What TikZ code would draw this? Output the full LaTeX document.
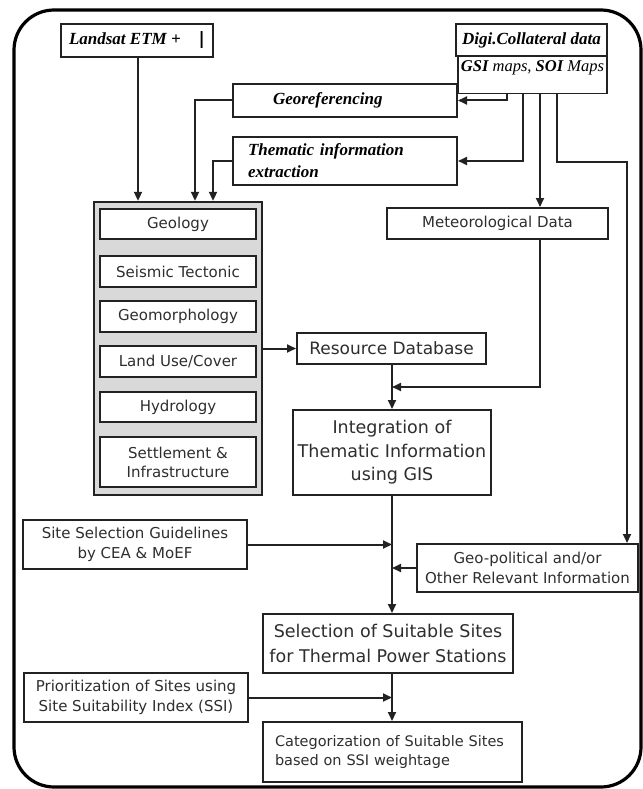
\documentclass[tikz,border=0pt]{standalone}
\usepackage{fontspec}
\setmainfont{DejaVu Sans}
\newfontfamily\serifbi{Liberation Serif}
\usetikzlibrary{arrows.meta}
\definecolor{lc}{HTML}{222222}
\definecolor{tc}{HTML}{2E2E2E}
\definecolor{gfill}{HTML}{D9D9D9}
\tikzset{
  box/.style={draw=lc, line width=2pt, fill=white, inner sep=0pt, text=tc, align=center},
  ibox/.style={box, minimum width=156pt, font=\fontsize{15}{19}\selectfont},
  sbox/.style={box, font=\serifbi\bfseries\itshape\fontsize{17}{22}\selectfont, text=black},
  ar/.style={draw=lc, line width=2pt, -{Triangle[length=9pt,width=8pt]}},
  ln/.style={draw=lc, line width=2pt}
}
\begin{document}
\begin{tikzpicture}[x=1pt, y=-1pt]
\useasboundingbox (0,0) rectangle (642,789);
% outer frame
\draw[line width=3.2pt, rounded corners=40pt] (14,10) rectangle (641,787);

% top sources
\node[sbox, minimum width=152pt, minimum height=33pt] (landsat) at (137,40.5) {Landsat ETM +\hspace{18pt}{\normalfont\bfseries|}};
\node[box, minimum width=149pt, minimum height=41pt, line width=1.4pt, text=black, anchor=north, inner sep=3pt] (gsi) at (532.5,52) {};
\node[text=black, font=\serifbi\itshape\fontsize{16.5}{20}\selectfont, inner sep=0pt] (gsitext) at (532.5,68) {\bfseries GSI\mdseries{} maps, \bfseries SOI\mdseries{} Maps};
\node[sbox, minimum width=151pt, minimum height=32pt] (digi) at (531.5,40) {Digi.Collateral data};

% processing boxes
\node[sbox, minimum width=224pt, minimum height=33pt, text width=144pt, inner xsep=40pt, align=left] (georef) at (345,100.5) {Georeferencing};
\node[sbox, minimum width=224pt, minimum height=48pt, text width=194pt, inner xsep=15pt, align=left] (thematic) at (345,161) {Thematic information\\extraction};

% thematic layers group
\node[draw=lc, line width=2.4pt, fill=gfill, minimum width=168pt, minimum height=293pt, inner sep=0pt] (group) at (178,348.5) {};
\node[ibox, minimum height=30pt] (geology) at (178,224) {Geology};
\node[ibox, minimum height=31pt] (seismic) at (178,271.5) {Seismic Tectonic};
\node[ibox, minimum height=31pt] (geomorph) at (178,316.5) {Geomorphology};
\node[ibox, minimum height=31pt] (landuse) at (178,361.5) {Land Use/Cover};
\node[ibox, minimum height=30pt] (hydro) at (178,407) {Hydrology};
\node[ibox, minimum height=50pt] (settle) at (178,462) {Settlement \&\\Infrastructure};

% right column
\node[box, minimum width=221pt, minimum height=31pt, font=\fontsize{15}{19}\selectfont] (meteo) at (497.5,223.5) {Meteorological Data};
\node[box, minimum width=189pt, minimum height=31pt, font=\fontsize{17}{21}\selectfont] (resource) at (391.5,348.5) {Resource Database};
\node[box, minimum width=198pt, minimum height=85pt, font=\fontsize{17.5}{23.5}\selectfont] (integ) at (392,452.5) {Integration of\\Thematic Information\\using GIS};

\node[box, minimum width=224pt, minimum height=49pt, font=\fontsize{15}{20}\selectfont] (guide) at (135,544.5) {Site Selection Guidelines\\by CEA \& MoEF};
\node[box, minimum width=221pt, minimum height=48pt, font=\fontsize{15}{19.5}\selectfont] (geopol) at (527.5,568) {Geo-political and/or\\Other Relevant Information};
\node[box, minimum width=250pt, minimum height=59pt, font=\fontsize{17.5}{25}\selectfont] (select) at (388,643.5) {Selection of Suitable Sites\\for Thermal Power Stations};
\node[box, minimum width=224pt, minimum height=49pt, font=\fontsize{15}{20}\selectfont] (prior) at (136,697.5) {Prioritization of Sites using\\Site Suitability Index (SSI)};
\node[box, minimum width=259pt, minimum height=60pt, text width=235pt, inner xsep=12pt, align=left, font=\fontsize{14.5}{19.5}\selectfont] (categ) at (392.5,752) {Categorization of Suitable Sites\\based on SSI weightage};

% helper coordinates
\coordinate (rturn) at (627,162);
\coordinate (merge) at (392,387);

% connectors
\draw[ar] ([xshift=1pt]landsat.south) -- ([xshift=1pt]landsat.south |- group.north);
\draw[ar] (georef.west) -| ([xshift=17pt]group.north);
\draw[ar] (thematic.west) -| ([xshift=35pt]group.north);
\draw[ar] ([xshift=-25.5pt]gsi.south) |- (georef.east);
\draw[ar] ([xshift=-9.5pt]gsi.south) |- (thematic.east);
\draw[ar] ([xshift=7.5pt]gsi.south) -- ([xshift=7.5pt]gsi.south |- meteo.north);
\draw[ar] ([xshift=24.5pt]gsi.south) |- (rturn) -- (rturn |- geopol.north);
\draw[ar] (group.east |- resource.west) -- (resource.west);
\draw[ar] ([xshift=42.5pt]meteo.south) |- (merge);
\draw[ar] (resource.south -| integ.north) -- (integ.north);
\draw[ar] (integ.south) -- (integ.south |- select.north);
\draw[ar] (guide.east) -- (guide.east -| integ.south);
\draw[ar] (geopol.west) -- (geopol.west -| integ.south);
\draw[ar] (select.south -| integ.south) -- (categ.north -| integ.south);
\draw[ar] (prior.east) -- (prior.east -| integ.south);
\end{tikzpicture}
\end{document}
